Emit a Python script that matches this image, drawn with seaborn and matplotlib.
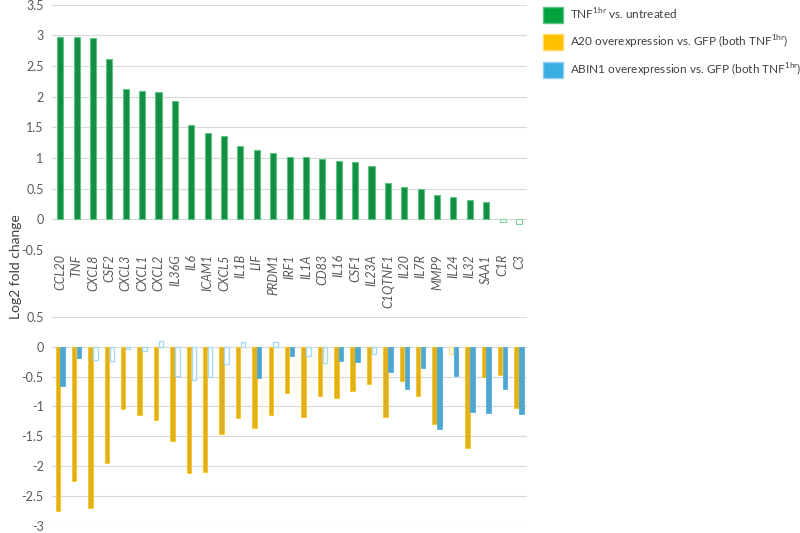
import pandas as pd
import matplotlib.pyplot as plt
import seaborn as sns
from matplotlib.patches import Patch

# data
genes = ['CCL20', 'TNF', 'CXCL8', 'CSF2', 'CXCL3', 'CXCL1', 'CXCL2', 'IL36G', 'IL6', 'ICAM1',
         'CXCL5', 'IL1B', 'LIF', 'PRDM1', 'IRF1', 'IL1A', 'CD83', 'IL16', 'CSF1', 'IL23A',
         'C1QTNF1', 'IL20', 'IL7R', 'MMP9', 'IL24', 'IL32', 'SAA1', 'C1R', 'C3']
tnf_vs_untreated = [2.97, 2.97, 2.96, 2.61, 2.12, 2.10, 2.07, 1.93, 1.54, 1.41,
                    1.36, 1.19, 1.13, 1.08, 1.02, 1.01, 0.99, 0.95, 0.94, 0.87,
                    0.60, 0.52, 0.49, 0.40, 0.36, 0.31, 0.29, -0.04, -0.07]
a20_vs_gfp = [-2.76, -2.26, -2.70, -1.95, -1.05, -1.14, -1.23, -1.58, -2.12, -2.10,
              -1.46, -1.19, -1.37, -1.15, -0.77, -1.17, -0.83, -0.86, -0.74, -0.62,
              -1.18, -0.58, -0.82, -1.29, -0.12, -1.70, -0.51, -0.47, -1.02]
abin1_vs_gfp = [-0.66, -0.19, -0.22, -0.24, -0.04, -0.07, 0.10, -0.49, -0.55, -0.51,
                -0.28, 0.08, -0.53, 0.08, -0.16, -0.15, -0.27, -0.24, -0.26, -0.12,
                -0.42, -0.71, -0.35, -1.38, -0.49, -1.09, -1.11, -0.70, -1.12]

# bars drawn hollow in the original (not significant)
hollow_tnf = ['C1R', 'C3']
hollow_a20 = ['IL24']
hollow_abin1 = ['CXCL8', 'CSF2', 'CXCL3', 'CXCL1', 'CXCL2', 'IL36G', 'IL6', 'ICAM1',
                'CXCL5', 'IL1B', 'PRDM1', 'IL1A', 'CD83', 'IL23A']

green, orange, blue = '#00A23E', '#FFC000', '#3AADE3'
green_lt, orange_lt, blue_lt = '#86D4A2', '#FFE08A', '#A6D9F3'

lab_tnf = 'TNF$^{\\mathregular{1hr}}$ vs. untreated'
lab_a20 = 'A20 overexpression vs. GFP (both TNF$^{\\mathregular{1hr}}$)'
lab_abin1 = 'ABIN1 overexpression vs. GFP (both TNF$^{\\mathregular{1hr}}$)'

sns.set_style('white')
plt.rcParams['font.family'] = ['Lato', 'DejaVu Sans']
plt.rcParams['mathtext.fontset'] = 'custom'
plt.rcParams['mathtext.rm'] = 'Lato'

top = pd.DataFrame({'gene': genes, 'lfc': tnf_vs_untreated})
bottom = pd.DataFrame({
    'gene': genes * 2,
    'lfc': a20_vs_gfp + abin1_vs_gfp,
    'comparison': ['A20'] * len(genes) + ['ABIN1'] * len(genes),
})

fig = plt.figure(figsize=(8, 5.33), dpi=100)
ax1 = fig.add_axes([0.065, 0.531, 0.594, 0.46])
ax2 = fig.add_axes([0.065, 0.014, 0.594, 0.391])

sns.barplot(data=top, x='gene', y='lfc', color=green, width=0.37, ax=ax1,
            edgecolor='#5CC584', linewidth=0.8)
sns.barplot(data=bottom, x='gene', y='lfc', hue='comparison', hue_order=['A20', 'ABIN1'],
            palette=[orange, blue], width=0.6, gap=0.1, ax=ax2, legend=False,
            edgecolor='white', linewidth=0.5)

# make the non-significant bars hollow
for bar, g in zip(ax1.containers[0], genes):
    if g in hollow_tnf:
        bar.set_facecolor('white')
        bar.set_edgecolor(green_lt)
for cont, hollow, fc, lt in [(ax2.containers[0], hollow_a20, orange, orange_lt),
                             (ax2.containers[1], hollow_abin1, blue, blue_lt)]:
    for bar, g in zip(cont, genes):
        if g in hollow:
            bar.set_facecolor('white')
            bar.set_edgecolor(lt)
            bar.set_linewidth(1.0)
        else:
            bar.set_edgecolor(fc)

grey = '#595959'
ax1.set_ylim(-0.5, 3.5)
ax1.set_yticks([-0.5, 0, 0.5, 1, 1.5, 2, 2.5, 3, 3.5])
ax1.set_yticklabels(['-0.5', '0', '0.5', '1', '1.5', '2', '2.5', '3', '3.5'])
ax2.set_ylim(-3, 0.5)
ax2.set_yticks([-3, -2.5, -2, -1.5, -1, -0.5, 0, 0.5])
ax2.set_yticklabels(['-3', '-2.5', '-2', '-1.5', '-1', '-0.5', '0', '0.5'])

for ax in (ax1, ax2):
    ax.set_xlim(-0.5, len(genes) - 0.5)
    ax.set_xlabel('')
    ax.set_ylabel('')
    ax.grid(axis='y', color='#D9D9D9', linewidth=0.8)
    ax.set_axisbelow(True)
    sns.despine(ax=ax, left=True, bottom=True)
    ax.tick_params(axis='y', length=0, labelsize=9, colors=grey, pad=6)

ax1.tick_params(axis='x', length=0, pad=3)
ax1.set_xticks(range(len(genes)))
ax1.set_xticklabels(genes, rotation=90, fontsize=9, color=grey, fontstyle='italic',
                    va='top', ha='center')
ax2.set_xticks([])

fig.text(0.02, 0.5, 'Log2 fold change', rotation=90, ha='center', va='center',
         fontsize=10, color='#404040')

handles = [Patch(facecolor=green, edgecolor='#5CC584'),
           Patch(facecolor=orange, edgecolor='#FFD966'),
           Patch(facecolor=blue, edgecolor='#8FD0F0')]
fig.legend(handles, [lab_tnf, lab_a20, lab_abin1], loc='upper left',
           bbox_to_anchor=(0.679, 0.99), frameon=False, fontsize=8.5,
           handlelength=1.7, handleheight=1.75, handletextpad=0.55,
           labelspacing=0.85, borderpad=0, borderaxespad=0, labelcolor='#404040')

fig.savefig('out.png', dpi=100)
